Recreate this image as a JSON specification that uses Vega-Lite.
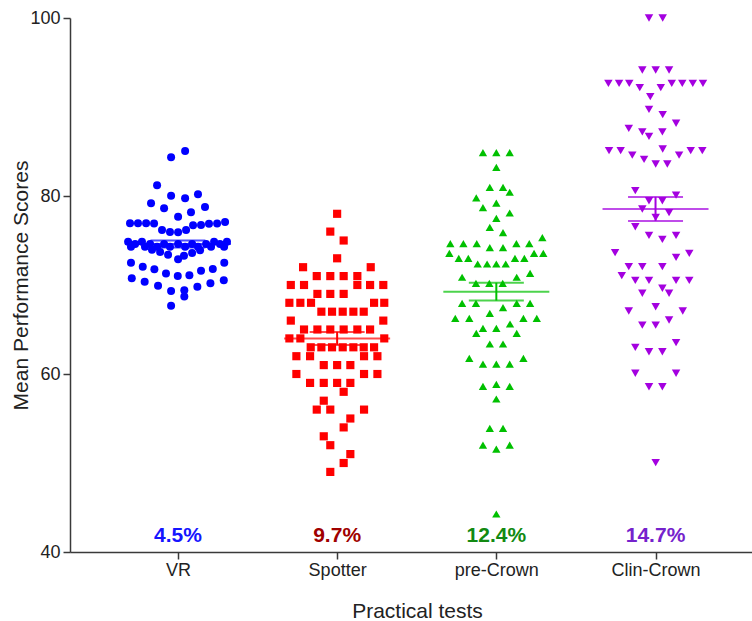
{
  "$schema": "https://vega.github.io/schema/vega-lite/v6.json",
  "width": 682,
  "height": 534,
  "autosize": "none",
  "padding": {"left": 70, "top": 18, "right": 0, "bottom": 69},
  "config": {
    "view": {"stroke": null},
    "font": "Liberation Sans",
    "axis": {
      "grid": false,
      "domainColor": "#3a3a3a",
      "tickColor": "#3a3a3a",
      "domainWidth": 1.5,
      "tickWidth": 1.5,
      "tickSize": 7,
      "labelColor": "#222222",
      "titleColor": "#222222",
      "labelFont": "Liberation Sans",
      "titleFont": "Liberation Sans",
      "labelFontSize": 18,
      "titleFontSize": 21,
      "titleFontWeight": "normal"
    }
  },
  "datasets": {
    "points": [
      {"test": "VR", "pos": 0.957, "score": 84.35}, {"test": "VR", "pos": 1.045, "score": 85.06}, {"test": "VR", "pos": 0.869, "score": 81.2}, {"test": "VR", "pos": 0.957, "score": 80.03}, {"test": "VR", "pos": 1.045, "score": 79.74}, {"test": "VR", "pos": 1.126, "score": 80.19}, {"test": "VR", "pos": 0.831, "score": 79.18}, {"test": "VR", "pos": 0.913, "score": 78.62}, {"test": "VR", "pos": 1.001, "score": 77.67}, {"test": "VR", "pos": 1.082, "score": 78.17}, {"test": "VR", "pos": 1.170, "score": 78.76},
      {"test": "VR", "pos": 0.699, "score": 76.93}, {"test": "VR", "pos": 0.749, "score": 76.93}, {"test": "VR", "pos": 0.800, "score": 76.93}, {"test": "VR", "pos": 0.850, "score": 76.9}, {"test": "VR", "pos": 0.900, "score": 76.18}, {"test": "VR", "pos": 0.950, "score": 75.96}, {"test": "VR", "pos": 1.001, "score": 75.92}, {"test": "VR", "pos": 1.051, "score": 76.18}, {"test": "VR", "pos": 1.095, "score": 76.7}, {"test": "VR", "pos": 1.145, "score": 76.74}, {"test": "VR", "pos": 1.195, "score": 76.89}, {"test": "VR", "pos": 1.246, "score": 76.9}, {"test": "VR", "pos": 1.296, "score": 77.08},
      {"test": "VR", "pos": 0.687, "score": 74.87}, {"test": "VR", "pos": 0.774, "score": 74.87}, {"test": "VR", "pos": 1.227, "score": 74.87}, {"test": "VR", "pos": 1.308, "score": 74.87},
      {"test": "VR", "pos": 0.731, "score": 74.6}, {"test": "VR", "pos": 0.825, "score": 74.6}, {"test": "VR", "pos": 0.913, "score": 74.6}, {"test": "VR", "pos": 1.001, "score": 74.6}, {"test": "VR", "pos": 1.089, "score": 74.6}, {"test": "VR", "pos": 1.177, "score": 74.6}, {"test": "VR", "pos": 1.264, "score": 74.6},
      {"test": "VR", "pos": 0.705, "score": 74.3}, {"test": "VR", "pos": 0.793, "score": 74.3}, {"test": "VR", "pos": 0.869, "score": 74.3}, {"test": "VR", "pos": 0.950, "score": 74.3}, {"test": "VR", "pos": 1.045, "score": 74.3}, {"test": "VR", "pos": 1.126, "score": 74.3}, {"test": "VR", "pos": 1.208, "score": 74.3}, {"test": "VR", "pos": 1.290, "score": 74.3},
      {"test": "VR", "pos": 0.837, "score": 73.95}, {"test": "VR", "pos": 0.888, "score": 73.7}, {"test": "VR", "pos": 0.938, "score": 73.4}, {"test": "VR", "pos": 1.001, "score": 72.9}, {"test": "VR", "pos": 1.038, "score": 73.3}, {"test": "VR", "pos": 1.089, "score": 73.6}, {"test": "VR", "pos": 1.139, "score": 73.9},
      {"test": "VR", "pos": 0.705, "score": 72.5}, {"test": "VR", "pos": 0.779, "score": 72.06}, {"test": "VR", "pos": 0.852, "score": 71.76}, {"test": "VR", "pos": 0.925, "score": 71.3}, {"test": "VR", "pos": 0.999, "score": 71.0}, {"test": "VR", "pos": 1.072, "score": 71.1}, {"test": "VR", "pos": 1.145, "score": 71.6}, {"test": "VR", "pos": 1.219, "score": 71.8}, {"test": "VR", "pos": 1.291, "score": 72.5},
      {"test": "VR", "pos": 0.710, "score": 70.75}, {"test": "VR", "pos": 0.791, "score": 70.37}, {"test": "VR", "pos": 0.875, "score": 69.92}, {"test": "VR", "pos": 0.957, "score": 69.33}, {"test": "VR", "pos": 1.040, "score": 69.4}, {"test": "VR", "pos": 1.040, "score": 68.7}, {"test": "VR", "pos": 1.122, "score": 69.8}, {"test": "VR", "pos": 1.204, "score": 70.2}, {"test": "VR", "pos": 1.288, "score": 70.53},
      {"test": "VR", "pos": 0.957, "score": 67.67},

      {"test": "Spotter", "pos": 2.000, "score": 78}, {"test": "Spotter", "pos": 1.957, "score": 76}, {"test": "Spotter", "pos": 2.041, "score": 75}, {"test": "Spotter", "pos": 2.000, "score": 73},
      {"test": "Spotter", "pos": 1.786, "score": 72}, {"test": "Spotter", "pos": 2.211, "score": 72},
      {"test": "Spotter", "pos": 1.872, "score": 71}, {"test": "Spotter", "pos": 1.957, "score": 71}, {"test": "Spotter", "pos": 2.041, "score": 71}, {"test": "Spotter", "pos": 2.127, "score": 71},
      {"test": "Spotter", "pos": 1.709, "score": 70}, {"test": "Spotter", "pos": 1.792, "score": 70}, {"test": "Spotter", "pos": 2.127, "score": 70}, {"test": "Spotter", "pos": 2.207, "score": 70}, {"test": "Spotter", "pos": 2.290, "score": 70},
      {"test": "Spotter", "pos": 1.876, "score": 69}, {"test": "Spotter", "pos": 1.957, "score": 69}, {"test": "Spotter", "pos": 2.041, "score": 69},
      {"test": "Spotter", "pos": 1.700, "score": 68}, {"test": "Spotter", "pos": 1.769, "score": 68}, {"test": "Spotter", "pos": 1.836, "score": 68}, {"test": "Spotter", "pos": 2.232, "score": 68}, {"test": "Spotter", "pos": 2.296, "score": 68},
      {"test": "Spotter", "pos": 1.901, "score": 67}, {"test": "Spotter", "pos": 1.968, "score": 67}, {"test": "Spotter", "pos": 2.035, "score": 67}, {"test": "Spotter", "pos": 2.102, "score": 67}, {"test": "Spotter", "pos": 2.167, "score": 67},
      {"test": "Spotter", "pos": 1.709, "score": 66}, {"test": "Spotter", "pos": 2.290, "score": 66},
      {"test": "Spotter", "pos": 1.792, "score": 65}, {"test": "Spotter", "pos": 1.876, "score": 65}, {"test": "Spotter", "pos": 1.957, "score": 65}, {"test": "Spotter", "pos": 2.041, "score": 65}, {"test": "Spotter", "pos": 2.127, "score": 65}, {"test": "Spotter", "pos": 2.207, "score": 65},
      {"test": "Spotter", "pos": 1.700, "score": 64}, {"test": "Spotter", "pos": 1.769, "score": 64}, {"test": "Spotter", "pos": 2.296, "score": 64},
      {"test": "Spotter", "pos": 1.834, "score": 63}, {"test": "Spotter", "pos": 1.901, "score": 63}, {"test": "Spotter", "pos": 1.968, "score": 63}, {"test": "Spotter", "pos": 2.035, "score": 63}, {"test": "Spotter", "pos": 2.102, "score": 63}, {"test": "Spotter", "pos": 2.167, "score": 63}, {"test": "Spotter", "pos": 2.232, "score": 63},
      {"test": "Spotter", "pos": 1.744, "score": 62}, {"test": "Spotter", "pos": 1.830, "score": 62}, {"test": "Spotter", "pos": 2.169, "score": 62}, {"test": "Spotter", "pos": 2.253, "score": 62},
      {"test": "Spotter", "pos": 1.916, "score": 61}, {"test": "Spotter", "pos": 2.000, "score": 61}, {"test": "Spotter", "pos": 2.083, "score": 61},
      {"test": "Spotter", "pos": 1.744, "score": 60}, {"test": "Spotter", "pos": 2.169, "score": 60}, {"test": "Spotter", "pos": 2.253, "score": 60},
      {"test": "Spotter", "pos": 1.830, "score": 59}, {"test": "Spotter", "pos": 1.916, "score": 59}, {"test": "Spotter", "pos": 2.000, "score": 59}, {"test": "Spotter", "pos": 2.083, "score": 59},
      {"test": "Spotter", "pos": 2.041, "score": 58}, {"test": "Spotter", "pos": 1.916, "score": 57},
      {"test": "Spotter", "pos": 1.872, "score": 56}, {"test": "Spotter", "pos": 1.957, "score": 56}, {"test": "Spotter", "pos": 2.169, "score": 56},
      {"test": "Spotter", "pos": 2.083, "score": 55}, {"test": "Spotter", "pos": 2.041, "score": 54}, {"test": "Spotter", "pos": 1.916, "score": 53}, {"test": "Spotter", "pos": 1.957, "score": 52}, {"test": "Spotter", "pos": 2.083, "score": 51}, {"test": "Spotter", "pos": 2.041, "score": 50}, {"test": "Spotter", "pos": 1.957, "score": 49},

      {"test": "pre-Crown", "pos": 2.916, "score": 84.87}, {"test": "pre-Crown", "pos": 3.000, "score": 84.87}, {"test": "pre-Crown", "pos": 3.084, "score": 84.87},
      {"test": "pre-Crown", "pos": 3.000, "score": 83.22},
      {"test": "pre-Crown", "pos": 2.959, "score": 80.98}, {"test": "pre-Crown", "pos": 3.042, "score": 80.98},
      {"test": "pre-Crown", "pos": 3.084, "score": 80.42}, {"test": "pre-Crown", "pos": 2.874, "score": 79.78}, {"test": "pre-Crown", "pos": 3.000, "score": 79.21}, {"test": "pre-Crown", "pos": 2.916, "score": 78.69}, {"test": "pre-Crown", "pos": 3.084, "score": 78.09}, {"test": "pre-Crown", "pos": 3.000, "score": 77.49}, {"test": "pre-Crown", "pos": 2.959, "score": 76.48}, {"test": "pre-Crown", "pos": 3.042, "score": 75.88}, {"test": "pre-Crown", "pos": 3.289, "score": 75.32},
      {"test": "pre-Crown", "pos": 2.711, "score": 74.64}, {"test": "pre-Crown", "pos": 2.793, "score": 74.64}, {"test": "pre-Crown", "pos": 2.877, "score": 74.64}, {"test": "pre-Crown", "pos": 3.126, "score": 74.64}, {"test": "pre-Crown", "pos": 3.207, "score": 74.64},
      {"test": "pre-Crown", "pos": 2.959, "score": 74.19}, {"test": "pre-Crown", "pos": 3.042, "score": 74.19},
      {"test": "pre-Crown", "pos": 2.705, "score": 73.56}, {"test": "pre-Crown", "pos": 3.237, "score": 73.56}, {"test": "pre-Crown", "pos": 3.295, "score": 73.56},
      {"test": "pre-Crown", "pos": 2.764, "score": 73.0}, {"test": "pre-Crown", "pos": 2.824, "score": 73.0}, {"test": "pre-Crown", "pos": 3.117, "score": 73.0}, {"test": "pre-Crown", "pos": 3.176, "score": 73.0},
      {"test": "pre-Crown", "pos": 2.883, "score": 72.36}, {"test": "pre-Crown", "pos": 2.942, "score": 72.36}, {"test": "pre-Crown", "pos": 3.000, "score": 72.36}, {"test": "pre-Crown", "pos": 3.059, "score": 72.36},
      {"test": "pre-Crown", "pos": 2.785, "score": 70.87}, {"test": "pre-Crown", "pos": 3.128, "score": 70.87}, {"test": "pre-Crown", "pos": 3.212, "score": 71.3},
      {"test": "pre-Crown", "pos": 2.872, "score": 70.19}, {"test": "pre-Crown", "pos": 2.956, "score": 70.19}, {"test": "pre-Crown", "pos": 3.040, "score": 70.19},
      {"test": "pre-Crown", "pos": 2.785, "score": 67.94}, {"test": "pre-Crown", "pos": 2.872, "score": 67.94}, {"test": "pre-Crown", "pos": 3.128, "score": 67.94}, {"test": "pre-Crown", "pos": 3.212, "score": 67.94},
      {"test": "pre-Crown", "pos": 3.042, "score": 67.45}, {"test": "pre-Crown", "pos": 2.959, "score": 66.8},
      {"test": "pre-Crown", "pos": 2.742, "score": 66.26}, {"test": "pre-Crown", "pos": 2.830, "score": 66.26}, {"test": "pre-Crown", "pos": 3.170, "score": 66.26}, {"test": "pre-Crown", "pos": 3.254, "score": 66.26},
      {"test": "pre-Crown", "pos": 3.086, "score": 65.62}, {"test": "pre-Crown", "pos": 2.916, "score": 65.13}, {"test": "pre-Crown", "pos": 3.000, "score": 65.13},
      {"test": "pre-Crown", "pos": 2.874, "score": 64.57}, {"test": "pre-Crown", "pos": 3.128, "score": 64.57},
      {"test": "pre-Crown", "pos": 2.959, "score": 63.37}, {"test": "pre-Crown", "pos": 3.042, "score": 63.37},
      {"test": "pre-Crown", "pos": 2.830, "score": 61.76}, {"test": "pre-Crown", "pos": 3.170, "score": 61.76},
      {"test": "pre-Crown", "pos": 2.916, "score": 61.12}, {"test": "pre-Crown", "pos": 3.000, "score": 61.12}, {"test": "pre-Crown", "pos": 3.084, "score": 61.12},
      {"test": "pre-Crown", "pos": 2.916, "score": 58.6}, {"test": "pre-Crown", "pos": 3.000, "score": 58.84}, {"test": "pre-Crown", "pos": 3.084, "score": 58.6},
      {"test": "pre-Crown", "pos": 3.000, "score": 57.19},
      {"test": "pre-Crown", "pos": 2.959, "score": 53.9}, {"test": "pre-Crown", "pos": 3.042, "score": 53.9},
      {"test": "pre-Crown", "pos": 2.916, "score": 52.02}, {"test": "pre-Crown", "pos": 3.084, "score": 52.02}, {"test": "pre-Crown", "pos": 3.000, "score": 51.57},
      {"test": "pre-Crown", "pos": 3.000, "score": 44.27},

      {"test": "Clin-Crown", "pos": 3.959, "score": 100}, {"test": "Clin-Crown", "pos": 4.045, "score": 100},
      {"test": "Clin-Crown", "pos": 3.917, "score": 94.16}, {"test": "Clin-Crown", "pos": 4.001, "score": 94.16}, {"test": "Clin-Crown", "pos": 4.085, "score": 94.16},
      {"test": "Clin-Crown", "pos": 3.704, "score": 92.66}, {"test": "Clin-Crown", "pos": 3.771, "score": 92.66}, {"test": "Clin-Crown", "pos": 3.835, "score": 92.66}, {"test": "Clin-Crown", "pos": 4.102, "score": 92.66}, {"test": "Clin-Crown", "pos": 4.168, "score": 92.66}, {"test": "Clin-Crown", "pos": 4.234, "score": 92.66}, {"test": "Clin-Crown", "pos": 4.298, "score": 92.66},
      {"test": "Clin-Crown", "pos": 3.901, "score": 92.17}, {"test": "Clin-Crown", "pos": 4.033, "score": 92.17},
      {"test": "Clin-Crown", "pos": 3.967, "score": 91.16}, {"test": "Clin-Crown", "pos": 3.959, "score": 89.74}, {"test": "Clin-Crown", "pos": 4.045, "score": 89.14}, {"test": "Clin-Crown", "pos": 4.129, "score": 88.17},
      {"test": "Clin-Crown", "pos": 3.832, "score": 87.6}, {"test": "Clin-Crown", "pos": 3.917, "score": 87.2}, {"test": "Clin-Crown", "pos": 4.043, "score": 87.2}, {"test": "Clin-Crown", "pos": 3.959, "score": 86.7},
      {"test": "Clin-Crown", "pos": 3.708, "score": 85.09}, {"test": "Clin-Crown", "pos": 3.781, "score": 85.09}, {"test": "Clin-Crown", "pos": 4.221, "score": 85.09}, {"test": "Clin-Crown", "pos": 4.294, "score": 85.09},
      {"test": "Clin-Crown", "pos": 3.854, "score": 84.6}, {"test": "Clin-Crown", "pos": 4.148, "score": 84.6}, {"test": "Clin-Crown", "pos": 4.045, "score": 85.28}, {"test": "Clin-Crown", "pos": 3.928, "score": 84.12},
      {"test": "Clin-Crown", "pos": 4.001, "score": 83.6}, {"test": "Clin-Crown", "pos": 4.074, "score": 83.6},
      {"test": "Clin-Crown", "pos": 3.873, "score": 80.6}, {"test": "Clin-Crown", "pos": 4.129, "score": 80.1}, {"test": "Clin-Crown", "pos": 3.959, "score": 79.47}, {"test": "Clin-Crown", "pos": 4.043, "score": 79.47},
      {"test": "Clin-Crown", "pos": 3.917, "score": 78.54}, {"test": "Clin-Crown", "pos": 4.085, "score": 78.13}, {"test": "Clin-Crown", "pos": 4.001, "score": 77.6}, {"test": "Clin-Crown", "pos": 3.873, "score": 76.55},
      {"test": "Clin-Crown", "pos": 3.959, "score": 75.58}, {"test": "Clin-Crown", "pos": 4.129, "score": 75.58}, {"test": "Clin-Crown", "pos": 4.043, "score": 75.13},
      {"test": "Clin-Crown", "pos": 3.746, "score": 73.63}, {"test": "Clin-Crown", "pos": 4.129, "score": 73.11}, {"test": "Clin-Crown", "pos": 4.212, "score": 73.56},
      {"test": "Clin-Crown", "pos": 3.832, "score": 72.06}, {"test": "Clin-Crown", "pos": 3.917, "score": 72.06}, {"test": "Clin-Crown", "pos": 4.043, "score": 72.06},
      {"test": "Clin-Crown", "pos": 3.788, "score": 71.05},
      {"test": "Clin-Crown", "pos": 3.873, "score": 70.52}, {"test": "Clin-Crown", "pos": 3.959, "score": 70.52}, {"test": "Clin-Crown", "pos": 4.129, "score": 70.52}, {"test": "Clin-Crown", "pos": 4.212, "score": 70.52},
      {"test": "Clin-Crown", "pos": 4.043, "score": 69.63}, {"test": "Clin-Crown", "pos": 3.917, "score": 69.07}, {"test": "Clin-Crown", "pos": 4.085, "score": 69.07},
      {"test": "Clin-Crown", "pos": 4.001, "score": 67.56}, {"test": "Clin-Crown", "pos": 3.832, "score": 67.08}, {"test": "Clin-Crown", "pos": 4.171, "score": 67.08},
      {"test": "Clin-Crown", "pos": 4.085, "score": 66.07}, {"test": "Clin-Crown", "pos": 3.917, "score": 65.5}, {"test": "Clin-Crown", "pos": 4.001, "score": 65.5},
      {"test": "Clin-Crown", "pos": 4.129, "score": 63.52}, {"test": "Clin-Crown", "pos": 3.873, "score": 63.0}, {"test": "Clin-Crown", "pos": 3.959, "score": 62.5}, {"test": "Clin-Crown", "pos": 4.043, "score": 62.5},
      {"test": "Clin-Crown", "pos": 3.873, "score": 60.08}, {"test": "Clin-Crown", "pos": 4.129, "score": 60.08},
      {"test": "Clin-Crown", "pos": 3.959, "score": 58.57}, {"test": "Clin-Crown", "pos": 4.043, "score": 58.57},
      {"test": "Clin-Crown", "pos": 4.001, "score": 50.04}
    ],
    "stats": [
      {"test": "VR", "pos": 1, "mean": 74.6, "lo": 74.2, "hi": 75.0},
      {"test": "Spotter", "pos": 2, "mean": 64.0, "lo": 63.27, "hi": 64.73},
      {"test": "pre-Crown", "pos": 3, "mean": 69.25, "lo": 68.25, "hi": 70.25},
      {"test": "Clin-Crown", "pos": 4, "mean": 78.55, "lo": 77.2, "hi": 79.9}
    ],
    "cv": [
      {"test": "VR", "pos": 1, "label": "4.5%"},
      {"test": "Spotter", "pos": 2, "label": "9.7%"},
      {"test": "pre-Crown", "pos": 3, "label": "12.4%"},
      {"test": "Clin-Crown", "pos": 4, "label": "14.7%"}
    ]
  },
  "encoding": {
    "x": {
      "field": "pos", "type": "quantitative",
      "scale": {"domain": [0.322, 4.606], "nice": false, "zero": false},
      "axis": {
        "values": [1, 2, 3, 4],
        "labelExpr": "datum.value == 1 ? 'VR' : datum.value == 2 ? 'Spotter' : datum.value == 3 ? 'pre-Crown' : 'Clin-Crown'",
        "labelPadding": 2,
        "title": "Practical tests",
        "titleX": 347,
        "titleY": 65,
        "titleBaseline": "alphabetic"
      }
    }
  },
  "layer": [
    {
      "data": {"name": "points"},
      "mark": {"type": "point", "filled": true, "opacity": 1, "strokeWidth": 0},
      "encoding": {
        "y": {
          "field": "score", "type": "quantitative",
          "scale": {"domain": [40, 100], "nice": false, "zero": false},
          "axis": {
            "values": [40, 60, 80, 100],
            "labelPadding": 3,
            "title": "Mean Performance Scores",
            "titleX": -43,
            "titleY": 267,
            "titleAngle": -90,
            "titleAlign": "center",
            "titleBaseline": "alphabetic"
          }
        },
        "color": {
          "field": "test", "type": "nominal", "legend": null,
          "scale": {"domain": ["VR", "Spotter", "pre-Crown", "Clin-Crown"], "range": ["#0000ff", "#ff0000", "#00c000", "#a400e0"]}
        },
        "shape": {
          "field": "test", "type": "nominal", "legend": null,
          "scale": {"domain": ["VR", "Spotter", "pre-Crown", "Clin-Crown"], "range": ["circle", "square", "triangle-up", "triangle-down"]}
        },
        "size": {
          "field": "test", "type": "nominal", "legend": null,
          "scale": {"domain": ["VR", "Spotter", "pre-Crown", "Clin-Crown"], "range": [64, 72, 80, 80]}
        }
      }
    },
    {
      "data": {"name": "stats"},
      "mark": {"type": "tick", "orient": "horizontal", "size": 106, "thickness": 2},
      "encoding": {
        "y": {"field": "mean", "type": "quantitative"},
        "color": {"field": "test", "type": "nominal", "legend": null,
          "scale": {"domain": ["VR", "Spotter", "pre-Crown", "Clin-Crown"], "range": ["#0000ff", "#ff0000", "#00c000", "#a400e0"]}}
      }
    },
    {
      "data": {"name": "stats"},
      "mark": {"type": "tick", "orient": "horizontal", "size": 55, "thickness": 2},
      "encoding": {
        "y": {"field": "lo", "type": "quantitative"},
        "color": {"field": "test", "type": "nominal", "legend": null,
          "scale": {"domain": ["VR", "Spotter", "pre-Crown", "Clin-Crown"], "range": ["#0000ff", "#ff0000", "#00c000", "#a400e0"]}}
      }
    },
    {
      "data": {"name": "stats"},
      "mark": {"type": "tick", "orient": "horizontal", "size": 55, "thickness": 2},
      "encoding": {
        "y": {"field": "hi", "type": "quantitative"},
        "color": {"field": "test", "type": "nominal", "legend": null,
          "scale": {"domain": ["VR", "Spotter", "pre-Crown", "Clin-Crown"], "range": ["#0000ff", "#ff0000", "#00c000", "#a400e0"]}}
      }
    },
    {
      "data": {"name": "stats"},
      "mark": {"type": "rule", "strokeWidth": 2},
      "encoding": {
        "y": {"field": "lo", "type": "quantitative"},
        "y2": {"field": "hi"},
        "color": {"field": "test", "type": "nominal", "legend": null,
          "scale": {"domain": ["VR", "Spotter", "pre-Crown", "Clin-Crown"], "range": ["#0000ff", "#ff0000", "#00c000", "#a400e0"]}}
      }
    },
    {
      "data": {"name": "cv"},
      "mark": {"type": "text", "fontSize": 21, "fontWeight": "bold", "baseline": "alphabetic", "align": "center", "font": "Liberation Sans"},
      "encoding": {
        "y": {"datum": 41.15, "type": "quantitative"},
        "text": {"field": "label"},
        "color": {
          "field": "test", "type": "nominal", "legend": null,
          "scale": {"domain": ["VR", "Spotter", "pre-Crown", "Clin-Crown"], "range": ["#1515ff", "#a00000", "#128a12", "#7522cc"]}
        }
      }
    }
  ],
  "resolve": {"scale": {"color": "independent"}}
}
